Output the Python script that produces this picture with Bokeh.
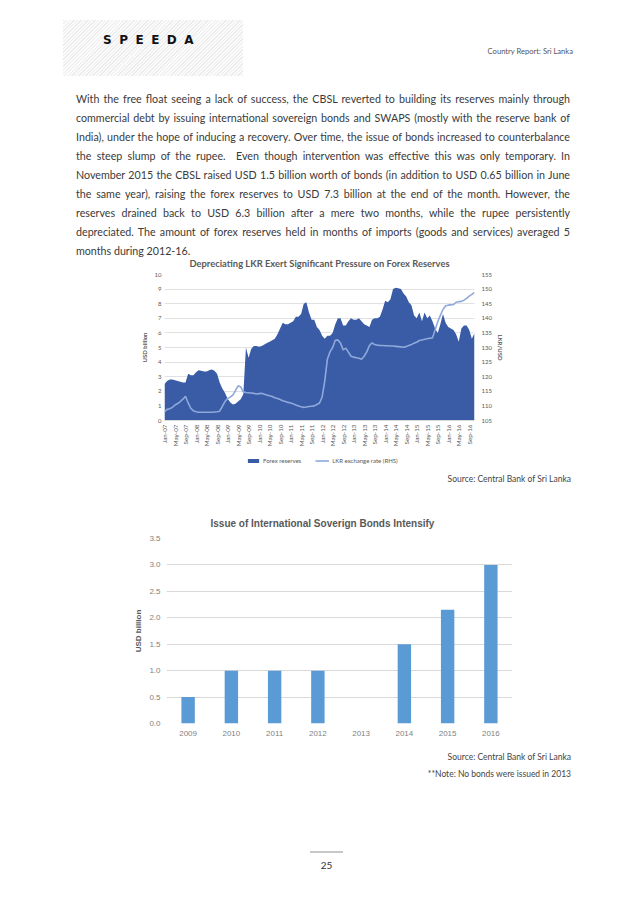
import math
from bokeh.plotting import figure
from bokeh.models import (Range1d, LinearAxis, FixedTicker, Legend, LegendItem,
                          Div, FactorRange, NumeralTickFormatter)
from bokeh.embed import file_html
from bokeh.resources import INLINE

# ---------------- data ----------------
# Forex reserves, USD billion, monthly Jan-07 .. Nov-16
reserves = [
    2.5, 2.7, 2.8, 2.8, 2.75, 2.7, 2.65, 2.6, 2.6, 3.2, 3.1, 3.1,
    3.3, 3.45, 3.4, 3.35, 3.35, 3.45, 3.5, 3.4, 3.2, 2.6, 2.2, 1.9,
    1.5, 1.25, 1.1, 1.15, 1.3, 1.45, 1.8, 5.0, 4.3, 4.9, 5.1, 5.1,
    5.05, 5.1, 5.2, 5.3, 5.4, 5.5, 5.6, 5.9, 6.3, 6.7, 6.6, 6.6,
    6.7, 6.8, 7.1, 7.1, 7.3, 8.0, 8.1, 7.4, 6.9, 6.9, 6.4, 6.2,
    5.8, 5.6, 5.8, 5.8, 6.0, 6.6, 7.0, 7.0, 6.5, 6.5, 6.8, 7.0,
    6.9, 6.9, 7.0, 6.8, 6.6, 6.5, 6.4, 6.9, 7.0, 7.0, 7.1, 7.6,
    8.2, 8.1, 8.3, 9.0, 9.1, 9.05, 9.0, 8.7, 8.5, 8.1, 7.9, 7.2,
    7.0, 7.4, 6.8, 7.4, 7.0, 7.2, 6.8, 6.3, 6.0, 6.6, 7.3, 6.7,
    6.4, 6.3, 6.2, 5.9, 5.4, 6.3, 6.5, 6.5, 6.2, 5.6, 6.0,
]
# LKR per USD (RHS), monthly Jan-07 .. Nov-16
lkr_rate = [
    108.0, 108.8, 109.0, 109.5, 110.3, 110.8, 111.5, 112.3, 113.3, 111.0, 109.2, 108.3,
    108.0, 107.8, 107.8, 107.8, 107.8, 107.8, 107.8, 107.9, 108.0, 108.2, 109.8, 111.5,
    112.5, 113.0, 113.7, 115.2, 116.9, 116.5, 114.8, 114.6, 114.5, 114.4, 114.3, 114.1,
    114.2, 114.3, 114.0, 113.7, 113.5, 113.2, 112.8, 112.5, 112.2, 111.8, 111.5, 111.2,
    111.0, 110.7, 110.3, 110.0, 109.7, 109.5, 109.6, 109.8, 109.9, 110.0, 110.5, 111.0,
    113.0, 118.5, 126.0, 128.5, 130.0, 132.5, 132.6, 131.5, 129.2, 129.8, 128.4, 127.0,
    126.7, 126.5, 126.3, 126.0, 127.0, 128.5, 130.7, 131.6, 131.0, 130.8, 130.7, 130.7,
    130.6, 130.6, 130.5, 130.5, 130.4, 130.3, 130.2, 130.1, 130.3, 130.7, 131.0, 131.5,
    131.8, 132.4, 132.6, 132.8, 133.0, 133.2, 133.3, 136.0, 138.8, 141.0, 143.0, 144.3,
    144.5, 144.6, 144.7, 145.5, 145.7, 145.8, 146.2, 146.8, 147.6, 148.2, 148.9,
]
month_tick_labels = [
    "Jan-07", "May-07", "Sep-07", "Jan-08", "May-08", "Sep-08", "Jan-09", "May-09",
    "Sep-09", "Jan-10", "May-10", "Sep-10", "Jan-11", "May-11", "Sep-11", "Jan-12",
    "May-12", "Sep-12", "Jan-13", "May-13", "Sep-13", "Jan-14", "May-14", "Sep-14",
    "Jan-15", "May-15", "Sep-15", "Jan-16", "May-16", "Sep-16",
]
left_ticks = [0, 1, 2, 3, 4, 5, 6, 7, 8, 9, 10]
right_ticks = [105, 110, 115, 120, 125, 130, 135, 140, 145, 150, 155]

bond_years = ["2009", "2010", "2011", "2012", "2013", "2014", "2015", "2016"]
bond_values = [0.5, 1.0, 1.0, 1.0, 0.0, 1.5, 2.15, 3.0]
bond_ticks = [0.0, 0.5, 1.0, 1.5, 2.0, 2.5, 3.0, 3.5]

paragraph = [
    "With the free float seeing a lack of success, the CBSL reverted to building its reserves mainly through",
    "commercial debt by issuing international sovereign bonds and SWAPS (mostly with the reserve bank of",
    "India), under the hope of inducing a recovery. Over time, the issue of bonds increased to counterbalance",
    "the steep slump of the rupee.&nbsp; Even though intervention was effective this was only temporary. In",
    "November 2015 the CBSL raised USD 1.5 billion worth of bonds (in addition to USD 0.65 billion in June",
    "the same year), raising the forex reserves to USD 7.3 billion at the end of the month. However, the",
    "reserves drained back to USD 6.3 billion after a mere two months, while the rupee persistently",
    "depreciated. The amount of forex reserves held in months of imports (goods and services) averaged 5",
    "months during 2012-16.",
]

W = 638
BODY_FONT = "Lato, sans-serif"


def set_attr(obj, name, val):
    try:
        setattr(obj, name, val)
    except Exception:
        pass


def plain_axis(ax, font, size, color, standoff):
    ax.axis_line_color = None
    ax.major_tick_line_color = None
    ax.minor_tick_line_color = None
    ax.major_tick_out = 0
    ax.major_tick_in = 0
    ax.minor_tick_out = 0
    ax.minor_tick_in = 0
    ax.major_label_text_font = font
    ax.major_label_text_font_size = size
    ax.major_label_text_color = color
    ax.major_label_standoff = standoff


# ---------------- header ----------------
header_html = (
    '<div style="position:relative;width:638px;height:88px;">'
    '<div style="position:absolute;left:63px;top:20px;width:180px;height:56px;'
    'background:repeating-linear-gradient(135deg,#ececec 0px,#ececec 1px,#fbfbfb 1px,#fbfbfb 2.5px);"></div>'
    '<div style="position:absolute;left:103px;top:32px;line-height:16px;font-family:\'DejaVu Sans\',sans-serif;'
    'font-weight:bold;font-size:12px;letter-spacing:7.5px;color:#111;white-space:nowrap;">SPEEDA</div>'
    '<div style="position:absolute;right:65px;top:46px;line-height:11px;font-family:Lato,sans-serif;'
    'font-size:7.6px;color:#555;white-space:nowrap;">Country Report: Sri Lanka</div>'
    '</div>'
)
header = Div(text=header_html, width=W, height=88, margin=0)

# ---------------- paragraph ----------------
rows = []
for i, line in enumerate(paragraph):
    last = "left" if i == len(paragraph) - 1 else "justify"
    rows.append(
        f'<div style="width:494px;height:19px;line-height:19px;text-align:justify;'
        f'text-align-last:{last};white-space:normal;">{line}</div>'
    )
para_html = (
    f'<div style="width:494px;padding:1px 0 0 76px;font-family:{BODY_FONT};font-size:10.7px;color:#3a3a3a;">'
    + "".join(rows) + "</div>"
)
para = Div(text=para_html, width=W, height=162, margin=0, styles={"overflow": "visible"})

# ---------------- chart 1 ----------------
months = list(range(len(reserves)))
p1 = figure(width=W, height=204, x_range=Range1d(0, len(reserves) - 1), y_range=Range1d(0, 10),
            output_backend="svg", toolbar_location=None,
            min_border_left=164, min_border_right=164, min_border_top=24, min_border_bottom=34)
p1.outline_line_color = None
p1.border_fill_alpha = 0
p1.extra_y_ranges = {"lkr": Range1d(105, 155)}

p1.varea(x=months, y1=0, y2=reserves, fill_color="#3a5ba5")
p1.line(x=months, y=lkr_rate, y_range_name="lkr", line_color="#8fa9dc", line_width=1.6)

p1.title.text = "Depreciating LKR Exert Significant Pressure on Forex Reserves"
p1.title.align = "center"
p1.title.text_font = "Lato"
p1.title.text_font_size = "9.4px"
p1.title.text_font_style = "bold"
p1.title.text_color = "#595959"
set_attr(p1.title, "standoff", 11)

p1.xgrid.visible = False
p1.ygrid.grid_line_color = "#d9d9d9"
p1.ygrid.grid_line_width = 0.8

tick_pos = [4 * i for i in range(len(month_tick_labels))]
xa = p1.xaxis[0]
xa.ticker = FixedTicker(ticks=tick_pos)
xa.major_label_overrides = {t: lab for t, lab in zip(tick_pos, month_tick_labels)}
xa.major_label_orientation = math.pi / 2
plain_axis(xa, "Lato", "6.3px", "#595959", 4)
xa.axis_line_color = "#d9d9d9"

ya = p1.yaxis[0]
ya.ticker = FixedTicker(ticks=left_ticks)
plain_axis(ya, "Lato", "6px", "#595959", 3)
ya.axis_label = "USD billion"
ya.axis_label_text_font_size = "6px"
ya.axis_label_text_font = "Lato"
ya.axis_label_text_font_style = "bold"
ya.axis_label_text_color = "#595959"
ya.axis_label_standoff = 4

ra = LinearAxis(y_range_name="lkr", ticker=FixedTicker(ticks=right_ticks))
plain_axis(ra, "Lato", "6px", "#595959", 7)
ra.axis_label = "LKR/USD"
ra.axis_label_text_font_size = "6px"
ra.axis_label_text_font = "Lato"
ra.axis_label_text_font_style = "bold"
ra.axis_label_text_color = "#595959"
ra.axis_label_standoff = 2
p1.add_layout(ra, "right")

# legend strip for chart 1 (own small figure, native Legend; its series lie outside the view)
pl = figure(width=W, height=12, x_range=Range1d(-20, -19), y_range=Range1d(-20, -19),
            output_backend="svg", toolbar_location=None, min_border=0,
            x_axis_location=None, y_axis_location=None)
pl.grid.visible = False
pl.outline_line_color = None
lg_area = pl.varea(x=months, y1=0, y2=reserves, fill_color="#3a5ba5")
lg_line = pl.line(x=months, y=lkr_rate, line_color="#8fa9dc", line_width=1.6)
leg1 = Legend(items=[LegendItem(label="Forex reserves", renderers=[lg_area]),
                     LegendItem(label="LKR exchange rate (RHS)", renderers=[lg_line])],
              orientation="horizontal", location=(246, 2))
leg1.label_text_font_size = "6px"
leg1.label_text_font = "Lato"
leg1.label_text_color = "#595959"
leg1.glyph_width = 14
leg1.glyph_height = 5
leg1.label_height = 6
leg1.label_standoff = 3
leg1.spacing = 14
leg1.padding = 2
leg1.margin = 0
leg1.border_line_color = None
leg1.background_fill_alpha = 0
pl.add_layout(leg1)

# source 1
src1 = Div(text=('<div style="position:relative;width:638px;height:34px;">'
                 '<div style="position:absolute;right:67px;top:7px;line-height:12px;white-space:nowrap;'
                 f'font-family:{BODY_FONT};font-size:8.5px;color:#444;">Source: Central Bank of Sri Lanka</div>'
                 '</div>'),
           width=W, height=34, margin=0)

# ---------------- chart 2 ----------------
p2 = figure(width=W, height=245, x_range=FactorRange(factors=bond_years, range_padding=0),
            y_range=Range1d(0, 3.5), output_backend="svg", toolbar_location=None,
            min_border_left=166, min_border_right=126, min_border_top=38, min_border_bottom=22)
p2.outline_line_color = None
p2.vbar(x=bond_years, top=bond_values, width=0.31, fill_color="#5b9bd5", line_color=None)
p2.xgrid.visible = False
p2.ygrid.grid_line_color = "#d9d9d9"
p2.ygrid.grid_line_width = 1.2

p2.title.text = "Issue of International Soverign Bonds Intensify"
p2.title.align = "left"
p2.title.offset = 44
p2.title.text_font = "Liberation Sans"
p2.title.text_font_size = "10px"
p2.title.text_font_style = "bold"
p2.title.text_color = "#595959"
set_attr(p2.title, "standoff", 19)

xb = p2.xaxis[0]
plain_axis(xb, "Liberation Sans", "8px", "#7f7f7f", 7)

yb = p2.yaxis[0]
yb.ticker = FixedTicker(ticks=bond_ticks)
yb.formatter = NumeralTickFormatter(format="0.0")
plain_axis(yb, "Liberation Sans", "8px", "#7f7f7f", 6)
yb.axis_label = "USD billion"
yb.axis_label_text_font_size = "8px"
yb.axis_label_text_font = "Liberation Sans"
yb.axis_label_text_font_style = "bold"
yb.axis_label_text_color = "#595959"
yb.axis_label_standoff = 3

# ---------------- footer ----------------
footer_html = (
    '<div style="position:relative;width:638px;height:158px;">'
    f'<div style="position:absolute;right:67px;top:6px;line-height:12px;font-family:{BODY_FONT};'
    'font-size:8.5px;color:#444;white-space:nowrap;">Source: Central Bank of Sri Lanka</div>'
    f'<div style="position:absolute;right:67px;top:23px;line-height:12px;font-family:{BODY_FONT};'
    'font-size:8.5px;color:#444;white-space:nowrap;">**Note: No bonds were issued in 2013</div>'
    '<div style="position:absolute;left:310px;top:106px;width:33px;height:1.5px;background:#c8c8c8;"></div>'
    f'<div style="position:absolute;left:310px;width:33px;top:114px;line-height:12px;text-align:center;'
    f'font-family:{BODY_FONT};font-size:10px;color:#333;">25</div>'
    '</div>'
)
footer = Div(text=footer_html, width=W, height=158, margin=0)

roots = [header, para, p1, pl, src1, p2, footer]
open("out.html", "w").write(file_html(roots, INLINE))
